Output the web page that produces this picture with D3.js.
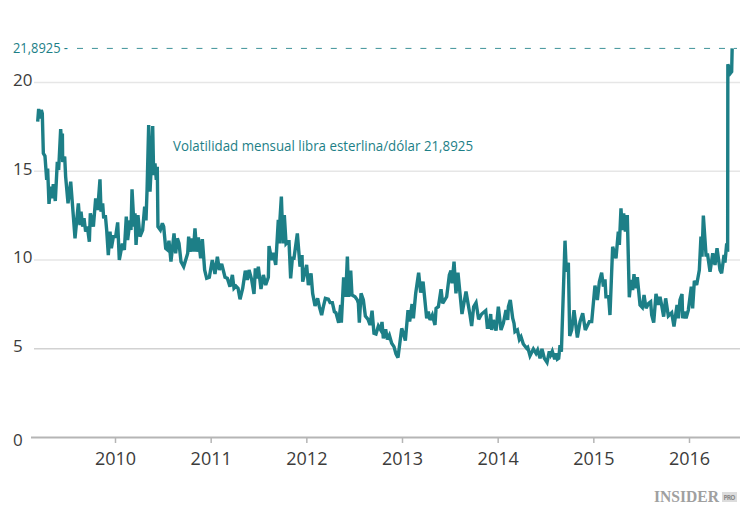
<!DOCTYPE html>
<html lang="es">

<head>
    <meta charset="UTF-8">
    <title>Volatilidad mensual libra esterlina/dólar</title>
    <script src="https://d3js.org/d3.v7.min.js"></script>
    <style>
    body {
        margin: 0;
        padding: 0;
        background: #fff;
    }

    svg {
        display: block;
    }

    text {
        font-family: "Open Sans", "Noto Sans", sans-serif;
    }

    .axis text {
        fill: #3c3c3b;
    }

    .nota {
        fill: #1d7f87;
        font-size: 14px;
    }
    </style>
</head>

<body>
    <svg width="750" height="520"></svg>
    <script>
    // años en decimal
    const fechas = [
        2009.192, 2009.202, 2009.216, 2009.230, 2009.240, 2009.251, 2009.268, 2009.286, 2009.296, 2009.310,
        2009.328, 2009.341, 2009.355, 2009.376, 2009.397, 2009.411, 2009.432, 2009.443, 2009.450, 2009.453,
        2009.474, 2009.484, 2009.509, 2009.537, 2009.557, 2009.582, 2009.617, 2009.634, 2009.645, 2009.662,
        2009.676, 2009.693, 2009.711, 2009.732, 2009.742, 2009.774, 2009.798, 2009.819, 2009.843, 2009.854,
        2009.871, 2009.882, 2009.899, 2009.913, 2009.930, 2009.948, 2009.962, 2009.983,
        2010.007, 2010.028, 2010.045, 2010.077, 2010.098, 2010.118, 2010.132, 2010.157, 2010.167, 2010.178,
        2010.199, 2010.209, 2010.220, 2010.240, 2010.261, 2010.289, 2010.310, 2010.324, 2010.335, 2010.352,
        2010.366, 2010.380, 2010.394, 2010.404, 2010.418, 2010.432, 2010.442, 2010.449, 2010.474, 2010.495,
        2010.509, 2010.530, 2010.550, 2010.564, 2010.585, 2010.617, 2010.634, 2010.652, 2010.669, 2010.690,
        2010.718, 2010.760, 2010.770, 2010.784, 2010.805, 2010.819, 2010.836, 2010.854, 2010.871, 2010.895,
        2010.913, 2010.937, 2010.958, 2010.986,
        2011.017, 2011.045, 2011.070, 2011.091, 2011.115, 2011.150, 2011.174, 2011.202, 2011.227, 2011.244,
        2011.265, 2011.286, 2011.307, 2011.335, 2011.362, 2011.383, 2011.401, 2011.429, 2011.453, 2011.467,
        2011.488, 2011.498, 2011.526, 2011.551, 2011.575, 2011.603, 2011.610, 2011.638, 2011.655, 2011.680,
        2011.707, 2011.718, 2011.725, 2011.739, 2011.756, 2011.770, 2011.788, 2011.805, 2011.819, 2011.836,
        2011.854, 2011.871, 2011.906, 2011.934, 2011.955, 2011.962,
        2012.003, 2012.021, 2012.049, 2012.066, 2012.091, 2012.118, 2012.136, 2012.160, 2012.178, 2012.199,
        2012.230, 2012.248, 2012.272, 2012.293, 2012.310, 2012.338, 2012.359, 2012.366, 2012.390, 2012.411,
        2012.429, 2012.443, 2012.464, 2012.477, 2012.509, 2012.533, 2012.544, 2012.554, 2012.572, 2012.596,
        2012.617, 2012.645, 2012.666, 2012.687, 2012.707, 2012.728, 2012.753, 2012.777, 2012.791, 2012.805,
        2012.829, 2012.847, 2012.868, 2012.892, 2012.916, 2012.937, 2012.958, 2012.997,
        2013.014, 2013.035, 2013.063, 2013.080, 2013.105, 2013.119, 2013.143, 2013.174, 2013.195, 2013.220,
        2013.258, 2013.275, 2013.293, 2013.317, 2013.345, 2013.356, 2013.380, 2013.390, 2013.408, 2013.425,
        2013.467, 2013.495, 2013.512, 2013.523, 2013.544, 2013.564, 2013.585, 2013.627, 2013.669, 2013.711,
        2013.728, 2013.749, 2013.774, 2013.801, 2013.833, 2013.875, 2013.892, 2013.910, 2013.927, 2013.937,
        2013.955, 2013.983,
        2014.007, 2014.035, 2014.059, 2014.087, 2014.105, 2014.112, 2014.132, 2014.157, 2014.171, 2014.181,
        2014.206, 2014.227, 2014.244, 2014.268, 2014.303, 2014.314, 2014.338, 2014.373, 2014.401, 2014.418,
        2014.443, 2014.463, 2014.488, 2014.516, 2014.540, 2014.554, 2014.571, 2014.596, 2014.610, 2014.624,
        2014.638, 2014.652, 2014.666, 2014.704, 2014.718, 2014.739, 2014.753, 2014.774, 2014.798, 2014.833,
        2014.861, 2014.889, 2014.916, 2014.958, 2014.983,
        2015.017, 2015.042, 2015.063, 2015.087, 2015.105, 2015.122, 2015.132, 2015.160, 2015.174, 2015.202,
        2015.237, 2015.261, 2015.272, 2015.289, 2015.303, 2015.317, 2015.335, 2015.355, 2015.376, 2015.394,
        2015.411, 2015.425, 2015.439, 2015.460, 2015.488, 2015.512, 2015.530, 2015.551, 2015.578, 2015.599,
        2015.610, 2015.631, 2015.655, 2015.680, 2015.697, 2015.714, 2015.735, 2015.756, 2015.784, 2015.819,
        2015.843, 2015.875, 2015.889, 2015.906, 2015.927, 2015.934, 2015.958, 2015.969, 2015.993,
        2016.024, 2016.038, 2016.056, 2016.080, 2016.108, 2016.125, 2016.136, 2016.150, 2016.178, 2016.195,
        2016.220, 2016.248, 2016.272, 2016.293, 2016.324, 2016.341, 2016.366, 2016.376, 2016.394, 2016.404,
        2016.406, 2016.413, 2016.434, 2016.446, 2016.451
    ];

    const volatilidad = [
        17.77, 18.48, 17.95, 18.42, 18.23, 15.98, 15.83, 14.48, 15.13, 13.13,
        14.1, 13.45, 14.25, 13.3, 15.5, 15.04, 17.35, 16.54, 17.1, 15.5,
        15.8, 14.67, 13.16, 14.38, 12.98, 11.19, 13.16, 11.94, 12.7, 11.85,
        12.32, 11.57, 11.85, 11.0, 12.6, 11.85, 13.45, 12.79, 14.52, 12.7,
        13.16, 12.32, 12.5, 11.66, 10.25, 11.57, 10.63, 11.29,
        11.29, 12.09, 9.97, 10.9, 10.54, 12.41, 11.1, 12.2, 11.66, 13.95,
        11.85, 12.6, 10.82, 12.5, 11.29, 11.66, 12.98, 12.2, 13.9, 17.58,
        13.82, 15.4, 17.52, 14.76, 15.42, 14.48, 15.23, 11.85, 11.66, 12.04,
        11.85, 10.63, 10.54, 11.06, 9.88, 11.47, 10.35, 11.19, 10.91, 9.88,
        9.6, 10.35, 11.29, 10.44, 11.19, 10.44, 11.76, 10.44, 11.25, 10.07,
        11.15, 9.41, 8.94, 9.0,
        9.97, 9.18, 10.16, 9.41, 9.75, 9.0, 8.94, 8.47, 9.13, 8.38,
        8.5, 8.38, 7.76, 8.38, 9.37, 8.85, 9.41, 8.85, 8.06, 9.5,
        8.94, 9.6, 8.34, 9.13, 8.56, 9.0, 10.76, 9.97, 10.38, 9.69,
        12.23, 10.9, 12.32, 13.54, 10.9, 12.5, 10.9, 11.0, 11.0, 8.94,
        10.07, 10.07, 11.47, 9.6, 10.25, 8.75,
        9.69, 8.56, 9.22, 8.09, 7.38, 7.81, 7.34, 6.87, 7.34, 7.81,
        7.76, 7.57, 7.57, 7.06, 7.0, 6.44, 7.44, 6.44, 9.0, 7.9,
        10.16, 7.9, 9.37, 8.0, 7.9, 7.72, 7.53, 6.44, 8.09, 7.72,
        6.82, 6.63, 6.31, 7.12, 5.84, 5.8, 6.25, 6.03, 6.48, 5.56,
        6.07, 5.5, 5.73, 5.28, 5.09, 4.68, 4.47, 6.12,
        5.84, 5.43, 7.15, 6.5, 7.49, 6.69, 8.09, 9.26, 8.13, 8.75,
        6.69, 7.06, 6.59, 6.87, 6.31, 7.25, 7.34, 7.68, 8.32, 7.53,
        7.9, 9.13, 9.37, 8.66, 9.88, 8.09, 9.26, 6.93, 8.19, 6.87,
        6.25, 7.34, 7.57, 6.63, 6.93, 7.12, 6.18, 6.18, 6.93, 6.03,
        6.59, 5.99,
        7.34, 6.03, 6.4, 7.15, 6.6, 7.34, 7.72, 6.69, 6.4, 5.93,
        6.03, 5.5, 5.65, 5.24, 5.0, 5.05, 4.58, 4.96, 4.71, 4.9,
        4.43, 4.96, 4.43, 4.2, 4.83, 4.62, 4.83, 4.38, 4.71, 4.38,
        4.43, 5.18, 4.8, 11.06, 9.31, 9.82, 5.69, 6.03, 7.15, 5.61,
        6.5, 6.97, 6.03, 6.5, 6.5,
        8.53, 7.72, 8.75, 9.26, 8.47, 8.88, 7.9, 7.9, 6.87, 10.72,
        10.07, 11.57, 10.82, 12.88, 11.66, 12.6, 11.57, 12.5, 7.87, 8.85,
        8.28, 9.18, 8.38, 9.0, 7.44, 7.3, 8.0, 7.25, 7.53, 7.62,
        6.87, 6.44, 8.06, 7.44, 7.9, 7.44, 6.78, 7.81, 6.82, 7.0,
        6.22, 7.44, 6.69, 7.72, 8.06, 6.69, 7.06, 6.69, 7.15,
        8.47, 7.25, 8.8, 8.56, 9.41, 11.29, 10.16, 12.47, 10.25, 10.25,
        9.31, 10.35, 9.69, 10.63, 9.41, 9.22, 10.25, 9.82, 10.91, 10.44,
        21.0, 20.9, 20.5, 20.58, 21.8925
    ];

    const anos = [2010, 2011, 2012, 2013, 2014, 2015, 2016];
    const ticksY = [0, 5, 10, 15, 20];
    const maximo = 21.8925;

    const svg = d3.select("svg");
    const teal = "#1d7f87";

    // 2010 cae en x=115 y 2016 en x=689
    const x = d3.scaleLinear().domain([2010, 2016]).range([115, 689]);
    const y = d3.scaleLinear().domain([0, 20]).range([437, 82]);

    // rejilla y etiquetas de y
    const ejeY = svg.append("g")
        .attr("class", "axis")
        .attr("transform", "translate(34,0)")
        .call(d3.axisRight(y).tickValues(ticksY).tickSize(706).tickFormat(d3.format("d")));
    ejeY.select(".domain").remove();
    ejeY.selectAll("line")
        .attr("x1", d => d == 0 ? -3 : 0)
        .attr("stroke", d => d == 0 ? "#b5b5b5" : d == 5 ? "#d2d2d2" : "#e6e6e6")
        .attr("stroke-width", d => d == 0 ? 2 : 1.5);
    ejeY.selectAll("text")
        .attr("x", -21)
        .attr("dy", d => d == 0 ? "0.48em" : "0.2em")
        .style("font-size", "17px");

    // eje x
    const ejeX = svg.append("g")
        .attr("class", "axis")
        .attr("transform", `translate(0,${y(0)})`)
        .call(d3.axisBottom(x).tickValues(anos).tickSize(6).tickPadding(9).tickFormat(d3.format("d")));
    ejeX.select(".domain").remove();
    ejeX.selectAll("line").attr("stroke", "#b5b5b5").attr("stroke-width", 1.5);
    ejeX.selectAll("text").style("font-size", "18px");

    // línea punteada del máximo
    svg.append("line")
        .attr("x1", 77)
        .attr("x2", 737)
        .attr("y1", y(maximo))
        .attr("y2", y(maximo))
        .attr("stroke", teal)
        .attr("stroke-opacity", 0.85)
        .attr("stroke-width", 1)
        .attr("stroke-dasharray", "6 8.93");

    svg.append("text")
        .attr("x", 13)
        .attr("y", y(maximo) + 5)
        .attr("fill", teal)
        .attr("textLength", 55)
        .attr("lengthAdjust", "spacingAndGlyphs")
        .style("font-size", "14px")
        .text("21,8925 -");

    const linea = d3.line()
        .x(d => x(d[0]))
        .y(d => y(d[1]));

    svg.append("path")
        .datum(d3.zip(fechas, volatilidad))
        .attr("d", linea)
        .attr("fill", "none")
        .attr("stroke", teal)
        .attr("stroke-width", 3.4)
        .attr("stroke-linejoin", "miter")
        .attr("stroke-miterlimit", 3);

    svg.append("text")
        .attr("class", "nota")
        .attr("x", 173)
        .attr("y", 151)
        .attr("textLength", 300)
        .attr("lengthAdjust", "spacingAndGlyphs")
        .text("Volatilidad mensual libra esterlina/dólar 21,8925");

    // marca de agua
    const marca = svg.append("g").attr("transform", "translate(654,502)");
    marca.append("text")
        .attr("fill", "#a0a0a0")
        .attr("textLength", 65)
        .attr("lengthAdjust", "spacingAndGlyphs")
        .style("font-family", "'Liberation Serif', serif")
        .style("font-weight", "bold")
        .style("font-size", "17px")
        .text("INSIDER");
    marca.append("rect")
        .attr("x", 68)
        .attr("y", -10)
        .attr("width", 15)
        .attr("height", 10)
        .attr("fill", "#dcdcdc");
    marca.append("text")
        .attr("x", 69.5)
        .attr("y", -2.5)
        .attr("fill", "#8c8c8c")
        .attr("textLength", 12)
        .style("font-size", "6.5px")
        .style("font-weight", "bold")
        .text("PRO");
    </script>
</body>

</html>
